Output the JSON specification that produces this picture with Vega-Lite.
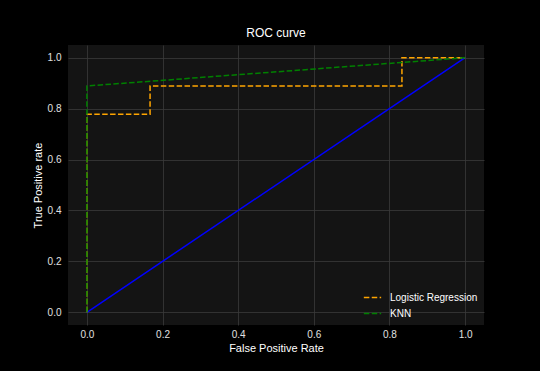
{
  "$schema": "https://vega.github.io/schema/vega-lite/v6.json",
  "width": 416,
  "height": 280,
  "autosize": {"type": "none"},
  "padding": {"left": 68, "top": 45, "right": 56, "bottom": 46},
  "background": "#000000",
  "title": {"text": "ROC curve", "color": "#ffffff", "fontSize": 12, "font": "Liberation Sans", "fontWeight": "normal", "offset": 5},
  "config": {
    "view": {"fill": "#141414", "stroke": null},
    "axis": {
      "labelColor": "#e0e0e0", "titleColor": "#ffffff", "labelFont": "Liberation Sans", "titleFont": "Liberation Sans",
      "labelFontSize": 10, "titleFontSize": 11, "titleFontWeight": "normal",
      "gridColor": "#3a3a3a", "gridWidth": 0.8, "domain": false, "ticks": false, "labelPadding": 8
    }
  },
  "datasets": {
    "roc": [
      {"model": "Logistic Regression", "fpr": 0, "tpr": 0, "o": 0},
      {"model": "Logistic Regression", "fpr": 0, "tpr": 0.778, "o": 1},
      {"model": "Logistic Regression", "fpr": 0.167, "tpr": 0.778, "o": 2},
      {"model": "Logistic Regression", "fpr": 0.167, "tpr": 0.889, "o": 3},
      {"model": "Logistic Regression", "fpr": 0.833, "tpr": 0.889, "o": 4},
      {"model": "Logistic Regression", "fpr": 0.833, "tpr": 1.0, "o": 5},
      {"model": "Logistic Regression", "fpr": 1.0, "tpr": 1.0, "o": 6},
      {"model": "KNN", "fpr": 0, "tpr": 0, "o": 0},
      {"model": "KNN", "fpr": 0, "tpr": 0.889, "o": 1},
      {"model": "KNN", "fpr": 1.0, "tpr": 1.0, "o": 2}
    ],
    "diag": [
      {"fpr": 0, "tpr": 0},
      {"fpr": 1, "tpr": 1}
    ]
  },
  "layer": [
    {
      "data": {"name": "diag"},
      "mark": {"type": "line", "color": "#0000ff", "strokeWidth": 1.5},
      "encoding": {
        "x": {"field": "fpr", "type": "quantitative"},
        "y": {"field": "tpr", "type": "quantitative"}
      }
    },
    {
      "data": {"name": "roc"},
      "mark": {"type": "line", "strokeWidth": 1.5, "strokeDash": [5.5, 2.4]},
      "encoding": {
        "x": {"field": "fpr", "type": "quantitative", "title": "False Positive Rate",
              "scale": {"domain": [-0.05, 1.05], "nice": false, "zero": false},
              "axis": {"values": [0, 0.2, 0.4, 0.6, 0.8, 1.0], "format": ".1f", "labelPadding": 4, "titlePadding": 3}},
        "y": {"field": "tpr", "type": "quantitative", "title": "True Positive rate",
              "scale": {"domain": [-0.05, 1.05], "nice": false, "zero": false},
              "axis": {"values": [0, 0.2, 0.4, 0.6, 0.8, 1.0], "format": ".1f", "labelPadding": 7, "titlePadding": 4}},
        "color": {"field": "model", "type": "nominal",
                  "scale": {"domain": ["Logistic Regression", "KNN"], "range": ["#ffa500", "#008000"]},
                  "legend": {"title": null, "orient": "bottom-right", "symbolType": "stroke", "symbolStrokeWidth": 1.5,
                             "symbolDash": [5.5, 2.4], "labelColor": "#ffffff", "labelFont": "Liberation Sans",
                             "labelFontSize": 10, "symbolSize": 300, "rowPadding": 1, "labelOffset": 8, "offset": 6}},
        "order": {"field": "o", "type": "quantitative"}
      }
    }
  ]
}
